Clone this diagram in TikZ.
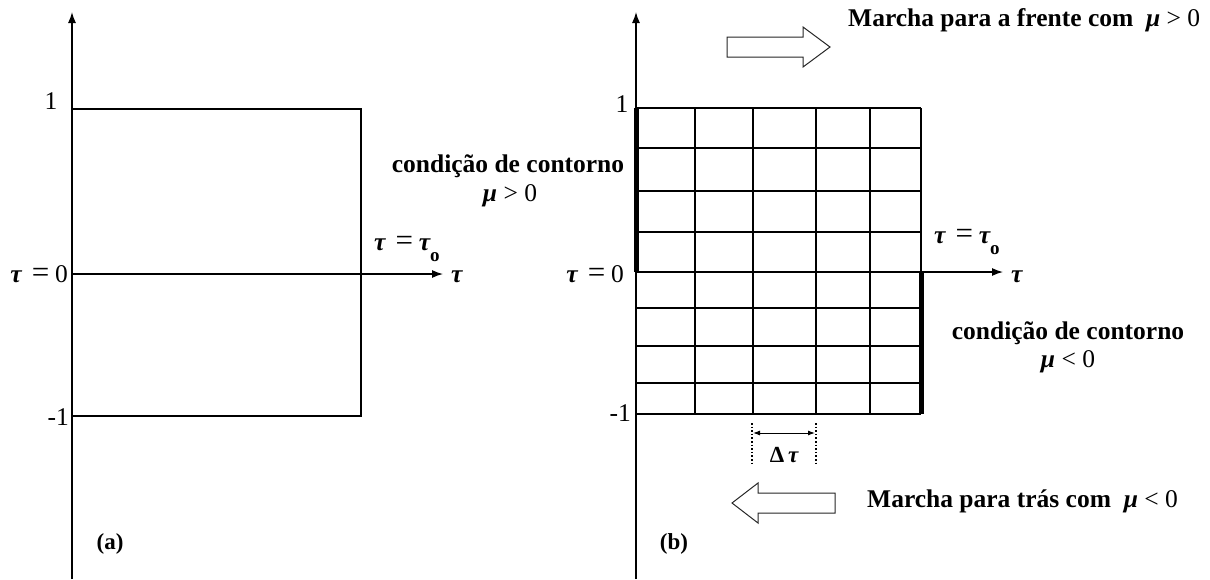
\documentclass[tikz,border=0pt]{standalone}
\usepackage{fontspec}
\setmainfont{Liberation Serif}
\usetikzlibrary{arrows.meta}
\newcommand{\tb}{{\bfseries\itshape τ}}
\newcommand{\mub}{{\bfseries\itshape μ}}
\newcommand{\eqs}{\hspace{0.4em}{\fontsize{31}{31}\selectfont =}\hspace{0.22em}}
\newcommand{\tsub}{\tb\raisebox{-0.45em}{\bfseries\fontsize{19}{20}\selectfont o}}
\tikzset{
  ax/.style={line width=1.3pt,-{Latex[length=11pt,width=8pt]}},
  ln/.style={line width=1.3pt},
  thickbar/.style={line width=5pt},
  lbl/.style={font=\fontsize{25.5}{28}\selectfont, inner sep=0pt},
  sml/.style={font=\fontsize{23}{25}\selectfont\bfseries, inner sep=0pt},
  blk/.style={line width=1pt, draw=black!85, fill=white, line join=miter},
  dimline/.style={line width=1.6pt, dotted},
  dimarrow/.style={line width=1pt,{Latex[length=7pt,width=5pt]}-{Latex[length=7pt,width=5pt]}},
}
\begin{document}
\begin{tikzpicture}[x=1pt,y=-1pt]
\useasboundingbox (0,0) rectangle (1210,579);
% ---------- panel (a) ----------
\coordinate (aO) at (72,579);
\coordinate (aT) at (72,12);
\coordinate (aH0) at (72,274);
\coordinate (aH1) at (443,274);
\draw[ax] (aO) -- (aT);
\draw[ax] (aH0) -- (aH1);
\coordinate (aR1) at (72,109);
\coordinate (aR2) at (361,109);
\coordinate (aR3) at (361,416);
\coordinate (aR4) at (72,416);
\draw[ln] (aR1) -- (aR2) -- (aR3) -- (aR4);
\node[lbl] (a1) at (51,101) {1};
\node[lbl,anchor=east] (a0) at (68,274) {\tb\eqs 0};
\node[lbl,anchor=east] (am1) at (69,417) {-1};
\node[lbl,anchor=west] (atau0) at (374,249) {\tb\eqs\tsub};
\node[lbl,anchor=west] (atau) at (451,277) {\tb};
\node[sml] (alab) at (110,544) {(a)};
% ---------- panel (b) ----------
\coordinate (bO) at (636,579);
\coordinate (bT) at (636,12);
\coordinate (bH0) at (636,272);
\coordinate (bH1) at (1003,272);
\foreach \x in {695,753,816,870} {
  \draw[ln] (\x,108) -- (\x,414);
}
\foreach \y in {108,148,191,232,308,346,383,414} {
  \draw[ln] (636,\y) -- (921,\y);
}
\draw[ln] (921,108) -- (921,272);
\draw[ax] (bO) -- (bT);
\draw[ax] (bH0) -- (bH1);
\coordinate (bB1a) at (636,108);
\coordinate (bB1b) at (636,272);
\coordinate (bB2a) at (921,272);
\coordinate (bB2b) at (921,414);
\draw[thickbar] (bB1a) -- (bB1b);
\draw[thickbar] (bB2a) -- (bB2b);
\node[lbl] (b1) at (622,104) {1};
\node[lbl,anchor=east] (b0) at (624,274) {\tb\eqs 0};
\node[lbl,anchor=east] (bm1) at (631,413) {-1};
\node[lbl,anchor=west] (btau0) at (934,242) {\tb\eqs\tsub};
\node[lbl,anchor=west] (btau) at (1011,277) {\tb};
\node[lbl,font=\fontsize{25.5}{28}\selectfont\bfseries] (bc1) at (508,166) {condição de contorno};
\node[lbl] (bm1c) at (510,196) {\mub\ > 0};
\node[lbl,font=\fontsize{25.5}{28}\selectfont\bfseries] (bc2) at (1068,333) {condição de contorno};
\node[lbl] (bm2c) at (1068,362) {\mub\ < 0};
\node[sml] (blab) at (674,544) {(b)};
% dimension
\coordinate (d1t) at (752,423);
\coordinate (d1b) at (752,464);
\coordinate (d2t) at (816,423);
\coordinate (d2b) at (816,464);
\draw[dimline] (d1t) -- (d1b);
\draw[dimline] (d2t) -- (d2b);
\coordinate (da) at (753,433);
\coordinate (db) at (815,433);
\draw[dimarrow] (da) -- (db);
\node[sml] (dlab) at (784,455) {Δ\,\tb};
% block arrows
\draw[blk] (727,37) -- (803,37) -- (803,27) -- (830,47) -- (803,67) -- (803,57) -- (727,57) -- cycle;
\draw[blk] (835,493) -- (758,493) -- (758,483) -- (732,503) -- (758,523) -- (758,513) -- (835,513) -- cycle;
\node[lbl,anchor=west] (top) at (848,20) {\bfseries Marcha para a frente com \ \mub\ {\mdseries> 0}};
\node[lbl,anchor=west] (bot) at (867,501) {\bfseries Marcha para trás com \ \mub\ {\mdseries< 0}};
\end{tikzpicture}
\end{document}
